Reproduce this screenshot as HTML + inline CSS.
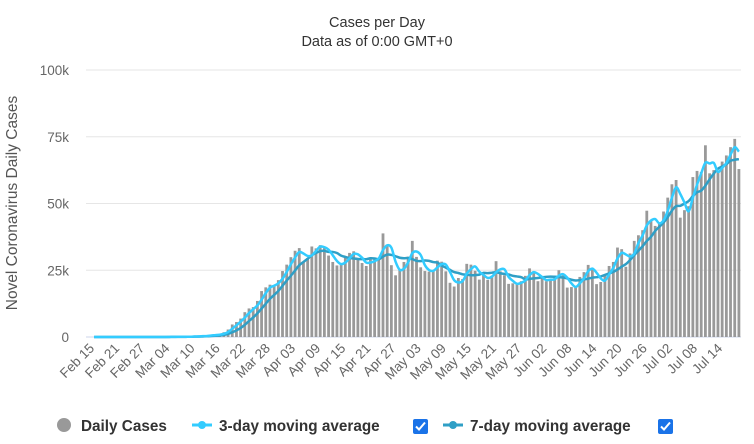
<!DOCTYPE html>
<html><head><meta charset="utf-8">
<style>
body{margin:0;background:#fff;font-family:"Liberation Sans",sans-serif;}
svg{display:block}
</style></head>
<body>
<svg id="chart" width="754" height="444" xmlns="http://www.w3.org/2000/svg">
<text x="377" y="27" text-anchor="middle" font-size="14.5" fill="#333">Cases per Day</text>
<text x="377" y="46" text-anchor="middle" font-size="14.5" fill="#333">Data as of 0:00 GMT+0</text>
<text transform="translate(17,203) rotate(-90)" text-anchor="middle" font-size="15.5" fill="#555">Novel Coronavirus Daily Cases</text>
<g id="grid"></g><g id="bars"></g><g id="lines"></g><g id="xlabels"></g>
<g>
<g><circle cx="64" cy="425" r="7" fill="#999"/><text x="81" y="431" font-size="15.3" font-weight="bold" fill="#333">Daily Cases</text></g>
<g><line x1="192" y1="425" x2="212" y2="425" stroke="#33ccff" stroke-width="3"/><circle cx="202" cy="425" r="4" fill="#33ccff"/><text x="219" y="431" font-size="15.3" font-weight="bold" fill="#333">3-day moving average</text></g>
<g><rect x="413" y="419" width="15" height="15" rx="2" fill="#1a73e8"/><path d="M416 426.5 l3 3 l6 -7" stroke="#fff" stroke-width="2" fill="none"/></g>
<g><line x1="443" y1="425" x2="463" y2="425" stroke="#2f9fc6" stroke-width="3"/><circle cx="453" cy="425" r="4" fill="#2f9fc6"/><text x="470" y="431" font-size="15.3" font-weight="bold" fill="#333">7-day moving average</text></g>
<g><rect x="658" y="419" width="15" height="15" rx="2" fill="#1a73e8"/><path d="M661 426.5 l3 3 l6 -7" stroke="#fff" stroke-width="2" fill="none"/></g>
</g>
</svg>
<script>
const yTicks=[0,25,50,75,100];
const yTickLabels=["0","25k","50k","75k","100k"];
const xTickLabels=["Feb 15","Feb 21","Feb 27","Mar 04","Mar 10","Mar 16","Mar 22","Mar 28","Apr 03","Apr 09","Apr 15","Apr 21","Apr 27","May 03","May 09","May 15","May 21","May 27","Jun 02","Jun 08","Jun 14","Jun 20","Jun 26","Jul 02","Jul 08","Jul 14"];
// daily cases in thousands, Feb 15 .. Jul 18
const dailyCases=[0,0,0,0,0,0,0,0,0,0,0,0,0.01,0.01,0.01,
0.02,0.02,0.03,0.05,0.07,0.1,0.08,0.12,0.15,0.3,0.25,0.4,0.5,0.8,0.8,1.0,1.8,2.8,4.7,5.6,6.9,9.3,10.7,11.2,13.5,17.2,18.6,19.6,19.4,21.3,24.7,
27.1,29.9,32.3,33.3,28.2,29.6,33.9,33.2,34.4,33.3,30.5,28.1,26.8,27.0,29.8,31.5,32.1,29.3,27.7,26.6,29.4,29.3,29.6,38.8,34.6,26.9,23.1,25.5,28.1,30.1,
36.0,30.0,26.1,24.7,24.5,25.1,28.6,28.2,24.6,20.3,18.9,22.1,21.7,27.4,27.1,24.8,21.5,23.5,21.4,22.9,28.4,24.6,23.1,19.9,20.1,19.8,20.9,22.9,25.7,24.3,20.9,
22.2,20.9,21.4,22.5,25.0,23.1,18.5,18.7,19.0,22.5,24.3,27.0,25.5,19.8,20.6,23.0,26.6,28.1,33.5,32.9,26.3,31.3,36.0,38.1,40.0,47.3,43.6,41.6,42.5,47.0,
52.2,57.2,58.8,44.7,47.5,49.0,59.9,62.2,61.8,71.8,61.3,62.5,61.8,65.7,68.0,71.1,74.2,62.9];
const avg3=dailyCases.map((v,i)=>{const s=dailyCases.slice(Math.max(0,i-2),i+1);return s.reduce((a,b)=>a+b,0)/s.length;});
const avg7=dailyCases.map((v,i)=>{const s=dailyCases.slice(Math.max(0,i-6),i+1);return s.reduce((a,b)=>a+b,0)/s.length;});
const NS="http://www.w3.org/2000/svg";
const L=92,R=741,T=70,B=337,n=dailyCases.length,step=(R-L)/n;
const xScale=i=>L+step*(i+0.5);
const yScale=v=>B-(v/100)*(B-T);
function mk(tag,attrs,parent){const e=document.createElementNS(NS,tag);for(const k in attrs)e.setAttribute(k,attrs[k]);parent.appendChild(e);return e;}
const grid=document.getElementById('grid');
yTicks.forEach((t,i)=>{
 const ln=mk('line',{x1:86,x2:R,y1:yScale(t),y2:yScale(t),stroke:i==0?'#ccd6eb':'#e6e6e6','stroke-width':1},grid);
 
 
 const tx=mk('text',{x:69,y:yScale(t)+5,'text-anchor':'end','font-size':13.5,fill:'#666'},grid);
 tx.textContent=yTickLabels[i];
 
 
});
const bars=document.getElementById('bars');
dailyCases.forEach((v,i)=>{
 const y=yScale(v);
 const r=mk('rect',{x:xScale(i)-1.4,y:y,width:2.8,height:B-y,fill:'#999'},bars);
 
 
});
function spline(vals){
 const p=vals.map((v,i)=>[xScale(i),yScale(v)]);
 let d='M'+p[0][0]+' '+p[0][1];
 for(let i=0;i<p.length-1;i++){
  const p0=p[Math.max(0,i-1)],p1=p[i],p2=p[i+1],p3=p[Math.min(p.length-1,i+2)];
  const c1=[p1[0]+(p2[0]-p0[0])/6,p1[1]+(p2[1]-p0[1])/6],c2=[p2[0]-(p3[0]-p1[0])/6,p2[1]-(p3[1]-p1[1])/6];
  d+=`C${c1[0]} ${c1[1]} ${c2[0]} ${c2[1]} ${p2[0]} ${p2[1]}`;
 }
 return d;
}
const lines=document.getElementById('lines');
const l7=mk('path',{d:spline(avg7),fill:'none',stroke:'#2f9fc6','stroke-width':2.5},lines);


const l3=mk('path',{d:spline(avg3),fill:'none',stroke:'#33ccff','stroke-width':2.5},lines);


const xl=document.getElementById('xlabels');
xTickLabels.forEach((s,k)=>{
 const x=xScale(k*6)+1,y=B+12;
 const t=mk('text',{x:x,y:y,'text-anchor':'end','font-size':13.5,fill:'#666',transform:`rotate(-45 ${x} ${y})`},xl);
 t.textContent=s;
 
 
});
</script>
</body></html>
